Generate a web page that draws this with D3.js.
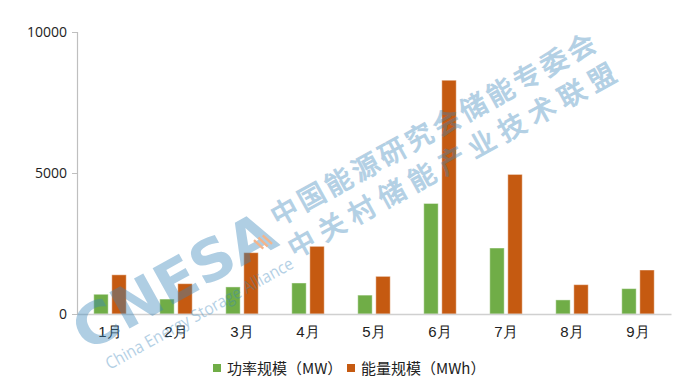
<!DOCTYPE html>
<html><head><meta charset="utf-8">
<script src="https://cdn.jsdelivr.net/npm/d3@7"></script>
<style>
html,body{margin:0;padding:0;background:#fff;}
svg{display:block;font-family:"Noto Sans CJK SC","Noto Sans",sans-serif;}
</style></head>
<body>
<svg id="chart" width="699" height="389"></svg>
<script>
const categories = ["1月","2月","3月","4月","5月","6月","7月","8月","9月"];
const seriesNames = ["功率规模（MW）","能量规模（MWh）"];
const powerMW = [700, 530, 960, 1100, 670, 3920, 2340, 500, 900];
const energyMWh = [1390, 1075, 2175, 2400, 1335, 8290, 4950, 1040, 1560];
const yTicks = [0, 5000, 10000];
const colors = ["#70ad47", "#c55a11"];

(function () {
const svg = d3.select("#chart");
const mLeft = 77, mRight = 671, mTop = 32, mBottom = 314;

const x0 = d3.scaleBand().domain(categories).range([mLeft, mRight]).padding(0);
const x1 = d3.scaleBand().domain([0,1]).range([0, x0.bandwidth()]).paddingInner(0.2).paddingOuter(0.93);
const y = d3.scaleLinear().domain([0, 10000]).range([mBottom, mTop]);

// y axis
const yAxis = svg.append("g").attr("transform", `translate(${mLeft},0)`)
  .call(d3.axisLeft(y).tickValues(yTicks).tickSize(5).tickPadding(5).tickFormat(d3.format("d")));
yAxis.select(".domain").attr("stroke", "#bfbfbf").attr("stroke-width", 1.2);
yAxis.selectAll(".tick line").attr("stroke", "#bfbfbf");
yAxis.selectAll(".tick text").attr("fill", "#222").style("font-size", "14px")
  .style("font-family", "'Open Sans','Noto Sans',sans-serif");

// bars
const data = categories.map((c, i) => ({c, vals: [powerMW[i], energyMWh[i]]}));
const groups = svg.append("g").selectAll("g").data(data).join("g")
  .attr("transform", d => `translate(${x0(d.c)},0)`);
groups.selectAll("rect").data(d => d.vals.map((v, k) => ({v, k}))).join("rect")
  .attr("x", d => x1(d.k))
  .attr("width", x1.bandwidth())
  .attr("y", d => y(d.v))
  .attr("height", d => y(0) - y(d.v))
  .attr("fill", d => colors[d.k])
  .attr("stroke", "rgba(255,255,255,0.45)").attr("stroke-width", 1);

// x axis
const xAxis = svg.append("g").attr("transform", `translate(0,${mBottom})`)
  .call(d3.axisBottom(x0).tickSize(0).tickPadding(12).tickSizeOuter(0));
xAxis.select(".domain").attr("stroke", "#d0d0d0").attr("stroke-width", 1.5);
xAxis.selectAll(".tick text").attr("fill", "#222").style("font-size", "15px");

// legend
const legend = svg.append("g");
const legX = [213, 347];
seriesNames.forEach((name, i) => {
  legend.append("rect").attr("x", legX[i]).attr("y", 364).attr("width", 8).attr("height", 8).attr("fill", colors[i]);
  legend.append("text").attr("x", legX[i] + 14).attr("y", 374).attr("fill", "#222")
    .style("font-size", "15px").text(name);
});

// watermark (semi-transparent overlay)
const wmColor = "#3a86bb";
const wm = svg.append("g").attr("fill", wmColor);
function wmText(txt, cx, cy, size, len, weight, family, adjust, sw, op) {
  wm.append("text").attr("transform", `translate(${cx},${cy}) rotate(-29)`)
    .attr("text-anchor", "middle").attr("dominant-baseline", "central")
    .attr("textLength", len).attr("lengthAdjust", adjust)
    .attr("stroke", sw ? wmColor : null).attr("stroke-width", sw || 0)
    .attr("opacity", op)
    .style("font-size", size + "px").style("font-weight", weight).style("font-family", family)
    .text(txt);
}
wmText("CNESA", 174, 281, 57, 222, 900, "'DejaVu Sans',sans-serif", "spacingAndGlyphs", 0, 0.4);
wmText("China Energy Storage Alliance", 199, 313, 17, 212, 400, "'Open Sans',sans-serif", "spacingAndGlyphs", 0, 0.38);
wmText("中国能源研究会储能专委会", 432, 128, 27, 366, 400, "'Noto Sans CJK SC'", "spacing", 1.1, 0.38);
wmText("中关村储能产业技术联盟", 451, 159, 27, 370, 400, "'Noto Sans CJK SC'", "spacing", 1.1, 0.38);
// small stripe icon
const icon = svg.append("g").attr("transform", "translate(263,242) rotate(-29)").attr("stroke", "#f4b48a").attr("stroke-width", 2.4);
[-5, 0, 5].forEach(o => icon.append("line").attr("x1", o - 2).attr("y1", -6).attr("x2", o + 2).attr("y2", 6));
})();
</script>
</body></html>
